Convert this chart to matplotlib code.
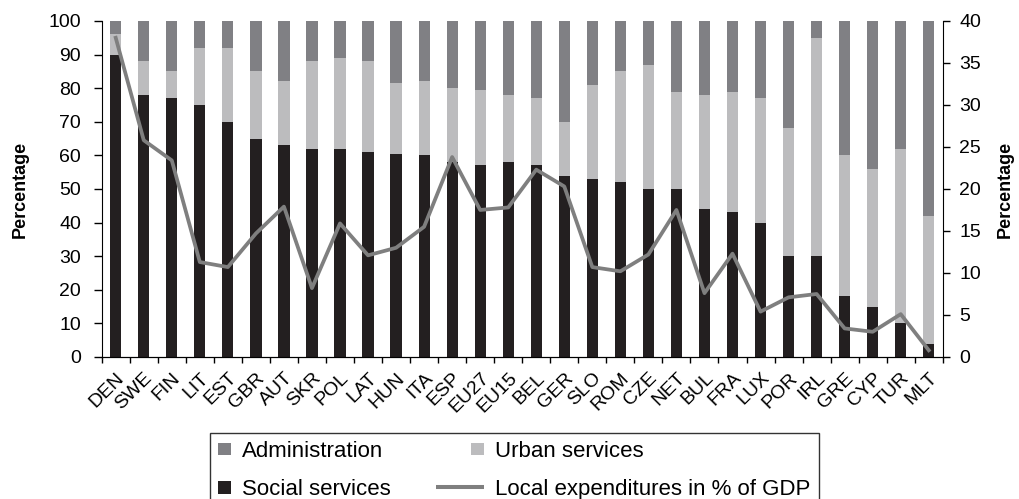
import matplotlib
matplotlib.use("Agg")
import matplotlib.pyplot as plt
import numpy as np
from matplotlib.legend_handler import HandlerBase
from matplotlib.patches import Rectangle, Patch
from matplotlib.lines import Line2D

plt.rcParams['font.family'] = ['Liberation Sans', 'DejaVu Sans']

countries = ["DEN", "SWE", "FIN", "LIT", "EST", "GBR", "AUT", "SKR", "POL", "LAT",
             "HUN", "ITA", "ESP", "EU27", "EU15", "BEL", "GER", "SLO", "ROM", "CZE",
             "NET", "BUL", "FRA", "LUX", "POR", "IRL", "GRE", "CYP", "TUR", "MLT"]
social = [90, 78, 77, 75, 70, 65, 63, 62, 62, 61,
          60.5, 60, 58, 57, 58, 57, 54, 53, 52, 50,
          50, 44, 43, 40, 30, 30, 18, 15, 10, 4]
urban = [6, 10, 8, 17, 22, 20, 19, 26, 27, 27,
         21, 22, 22, 22.5, 20, 20, 16, 28, 33, 37,
         29, 34, 36, 37, 38, 65, 42, 41, 52, 38]
admin = [100 - s - u for s, u in zip(social, urban)]
local_exp = [38, 25.8, 23.4, 11.3, 10.7, 14.7, 17.9, 8.2, 15.9, 12.1,
             13.0, 15.5, 23.8, 17.5, 17.8, 22.3, 20.3, 10.7, 10.2, 12.2,
             17.5, 7.6, 12.3, 5.4, 7.1, 7.5, 3.4, 3.0, 5.1, 0.8]

c_social = '#231f20'
c_urban = '#bcbcbe'
c_admin = '#808084'
c_line = '#7f7f7f'

fig = plt.figure(figsize=(10.19, 4.99), dpi=100)
ax = fig.add_axes([0.0998, 0.2846, 0.8254, 0.6734])
x = np.arange(len(countries))
w = 0.40
ax.bar(x, social, w, color=c_social, zorder=2)
ax.bar(x, urban, w, bottom=social, color=c_urban, zorder=2)
ax.bar(x, admin, w, bottom=[s + u for s, u in zip(social, urban)], color=c_admin, zorder=2)
ax.set_xlim(-0.5, len(countries) - 0.5)
ax.set_ylim(0, 100)
ax.set_yticks(np.arange(0, 101, 10))
ax.set_xticks(x)
ax.set_xticklabels(countries, rotation=45, ha='right', rotation_mode='anchor', fontsize=14)
ax.set_xticks(np.arange(-0.5, len(countries), 1), minor=True)
ax.tick_params(axis='x', which='major', length=0, pad=9)
ax.tick_params(axis='x', which='minor', length=4.5, direction='out', width=1)
ax.tick_params(axis='y', length=5.8, direction='out', labelsize=14, pad=9, width=1)
ax.spines['top'].set_visible(False)
ax.spines['right'].set_visible(False)
ax.set_ylabel('Percentage', fontsize=13, fontweight='bold', labelpad=14)

ax2 = ax.twinx()
ax2.plot(x, local_exp, color=c_line, lw=2.7, zorder=3)
ax2.set_ylim(0, 40)
ax2.set_yticks(np.arange(0, 41, 5))
ax2.tick_params(axis='y', length=5, direction='out', labelsize=14, pad=7, width=1)
ax2.spines['top'].set_visible(False)
ax2.spines['left'].set_visible(False)
ax2.set_ylabel('Percentage', fontsize=13, fontweight='bold', labelpad=11)


class SquareHandler(HandlerBase):
    def create_artists(self, legend, orig_handle, xdescent, ydescent, width, height, fontsize, trans):
        s = fontsize * 0.58
        r = Rectangle((width - s - xdescent, -ydescent + (height - s) / 2), s, s,
                      facecolor=orig_handle.get_facecolor(), edgecolor='none', transform=trans)
        return [r]


class LongLineHandler(HandlerBase):
    def create_artists(self, legend, orig_handle, xdescent, ydescent, width, height, fontsize, trans):
        y = -ydescent + height / 2
        ln = Line2D([-xdescent - 25, width - xdescent], [y, y], color=orig_handle.get_color(),
                    lw=orig_handle.get_linewidth(), solid_capstyle='butt', transform=trans)
        return [ln]


h_admin = Patch(facecolor=c_admin)
h_social = Patch(facecolor=c_social)
h_urban = Patch(facecolor=c_urban)
h_line = Line2D([], [], color=c_line, lw=2.9)
leg = fig.legend([h_admin, h_social, h_urban, h_line],
                 ['Administration', 'Social services', 'Urban services', 'Local expenditures in % of GDP'],
                 ncol=2, loc='upper left', bbox_to_anchor=(210 / 1019, 1 - 433 / 499),
                 fontsize=16, frameon=True, fancybox=False,
                 edgecolor='black', handlelength=0.6, handletextpad=0.5,
                 labelspacing=0.78, borderpad=0.35, borderaxespad=0, columnspacing=3.6,
                 handler_map={Patch: SquareHandler(), Line2D: LongLineHandler()})
leg.get_frame().set_linewidth(1.0)

fig.savefig('out.png', dpi=100)
